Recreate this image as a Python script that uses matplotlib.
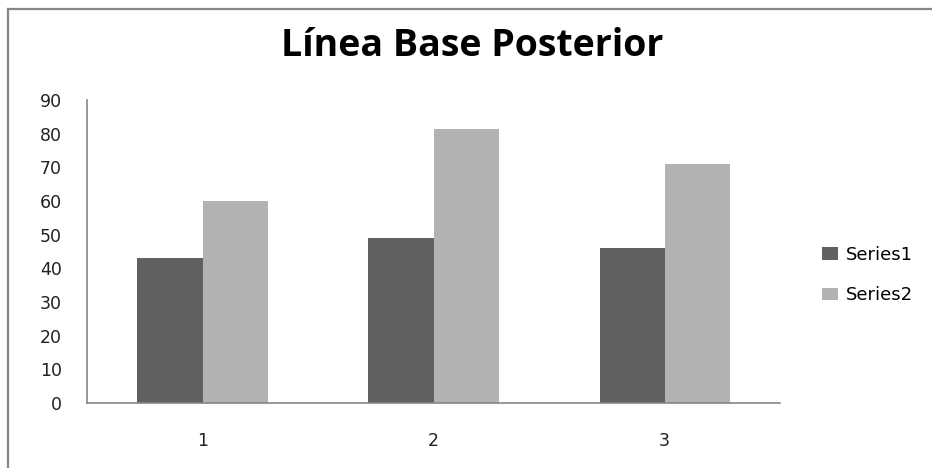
import matplotlib
matplotlib.use("Agg")
import matplotlib.pyplot as plt
from matplotlib.lines import Line2D
import numpy as np

categories = ["1", "2", "3"]
series1 = [43, 49, 46]
series2 = [60, 81.5, 71]
series_names = ["Series1", "Series2"]
y_ticks = [0, 10, 20, 30, 40, 50, 60, 70, 80, 90]

W, H = 932, 468
fig = plt.figure(figsize=(W / 100, H / 100), dpi=100)
fig.patch.set_facecolor("white")

# plot area in pixel coordinates
left, right, top, bottom = 87, 780, 100, 403
ax = fig.add_axes([left / W, (H - bottom) / H, (right - left) / W, (bottom - top) / H])

x = np.arange(1, len(categories) + 1)
bw = 65 / 231
c1, c2 = "#616161", "#b2b2b2"
ax.bar(x - bw / 2, series1, width=bw, color=c1, label=series_names[0])
ax.bar(x + bw / 2, series2, width=bw, color=c2, label=series_names[1])

ax.set_xlim(0.5, 3.5)
ax.set_ylim(0, 90)
ax.set_yticks(y_ticks)
ax.set_yticklabels([str(v) for v in y_ticks])
ax.set_xticks(x)
ax.set_xticklabels(categories)

for s in ["top", "right"]:
    ax.spines[s].set_visible(False)
for s in ["left", "bottom"]:
    ax.spines[s].set_color("#868686")
    ax.spines[s].set_linewidth(1.2)

ax.tick_params(axis="y", length=0, pad=18, labelsize=12.5, labelcolor="#222222")
ax.tick_params(axis="x", length=0, pad=21, labelsize=12.5, labelcolor="#222222")

# title
fig.text(472 / W, 1 - 46 / H, "Línea Base Posterior", ha="center", va="center",
         fontsize=27, fontweight="bold", family="Open Sans", color="black")

# legend
leg = fig.legend(loc="center left", bbox_to_anchor=(815 / W, 1 - 275 / H),
                 frameon=False, fontsize=13, handlelength=0.85, handleheight=0.7,
                 handletextpad=0.45, labelspacing=1.25, borderaxespad=0)

# chart border (top and left edges)
fig.add_artist(Line2D([8 / W, 1], [1 - 9 / H, 1 - 9 / H], transform=fig.transFigure,
                      color="#868686", linewidth=1.6))
fig.add_artist(Line2D([8 / W, 8 / W], [0, 1 - 9 / H], transform=fig.transFigure,
                      color="#868686", linewidth=1.6))

fig.savefig("out.png", dpi=100)
